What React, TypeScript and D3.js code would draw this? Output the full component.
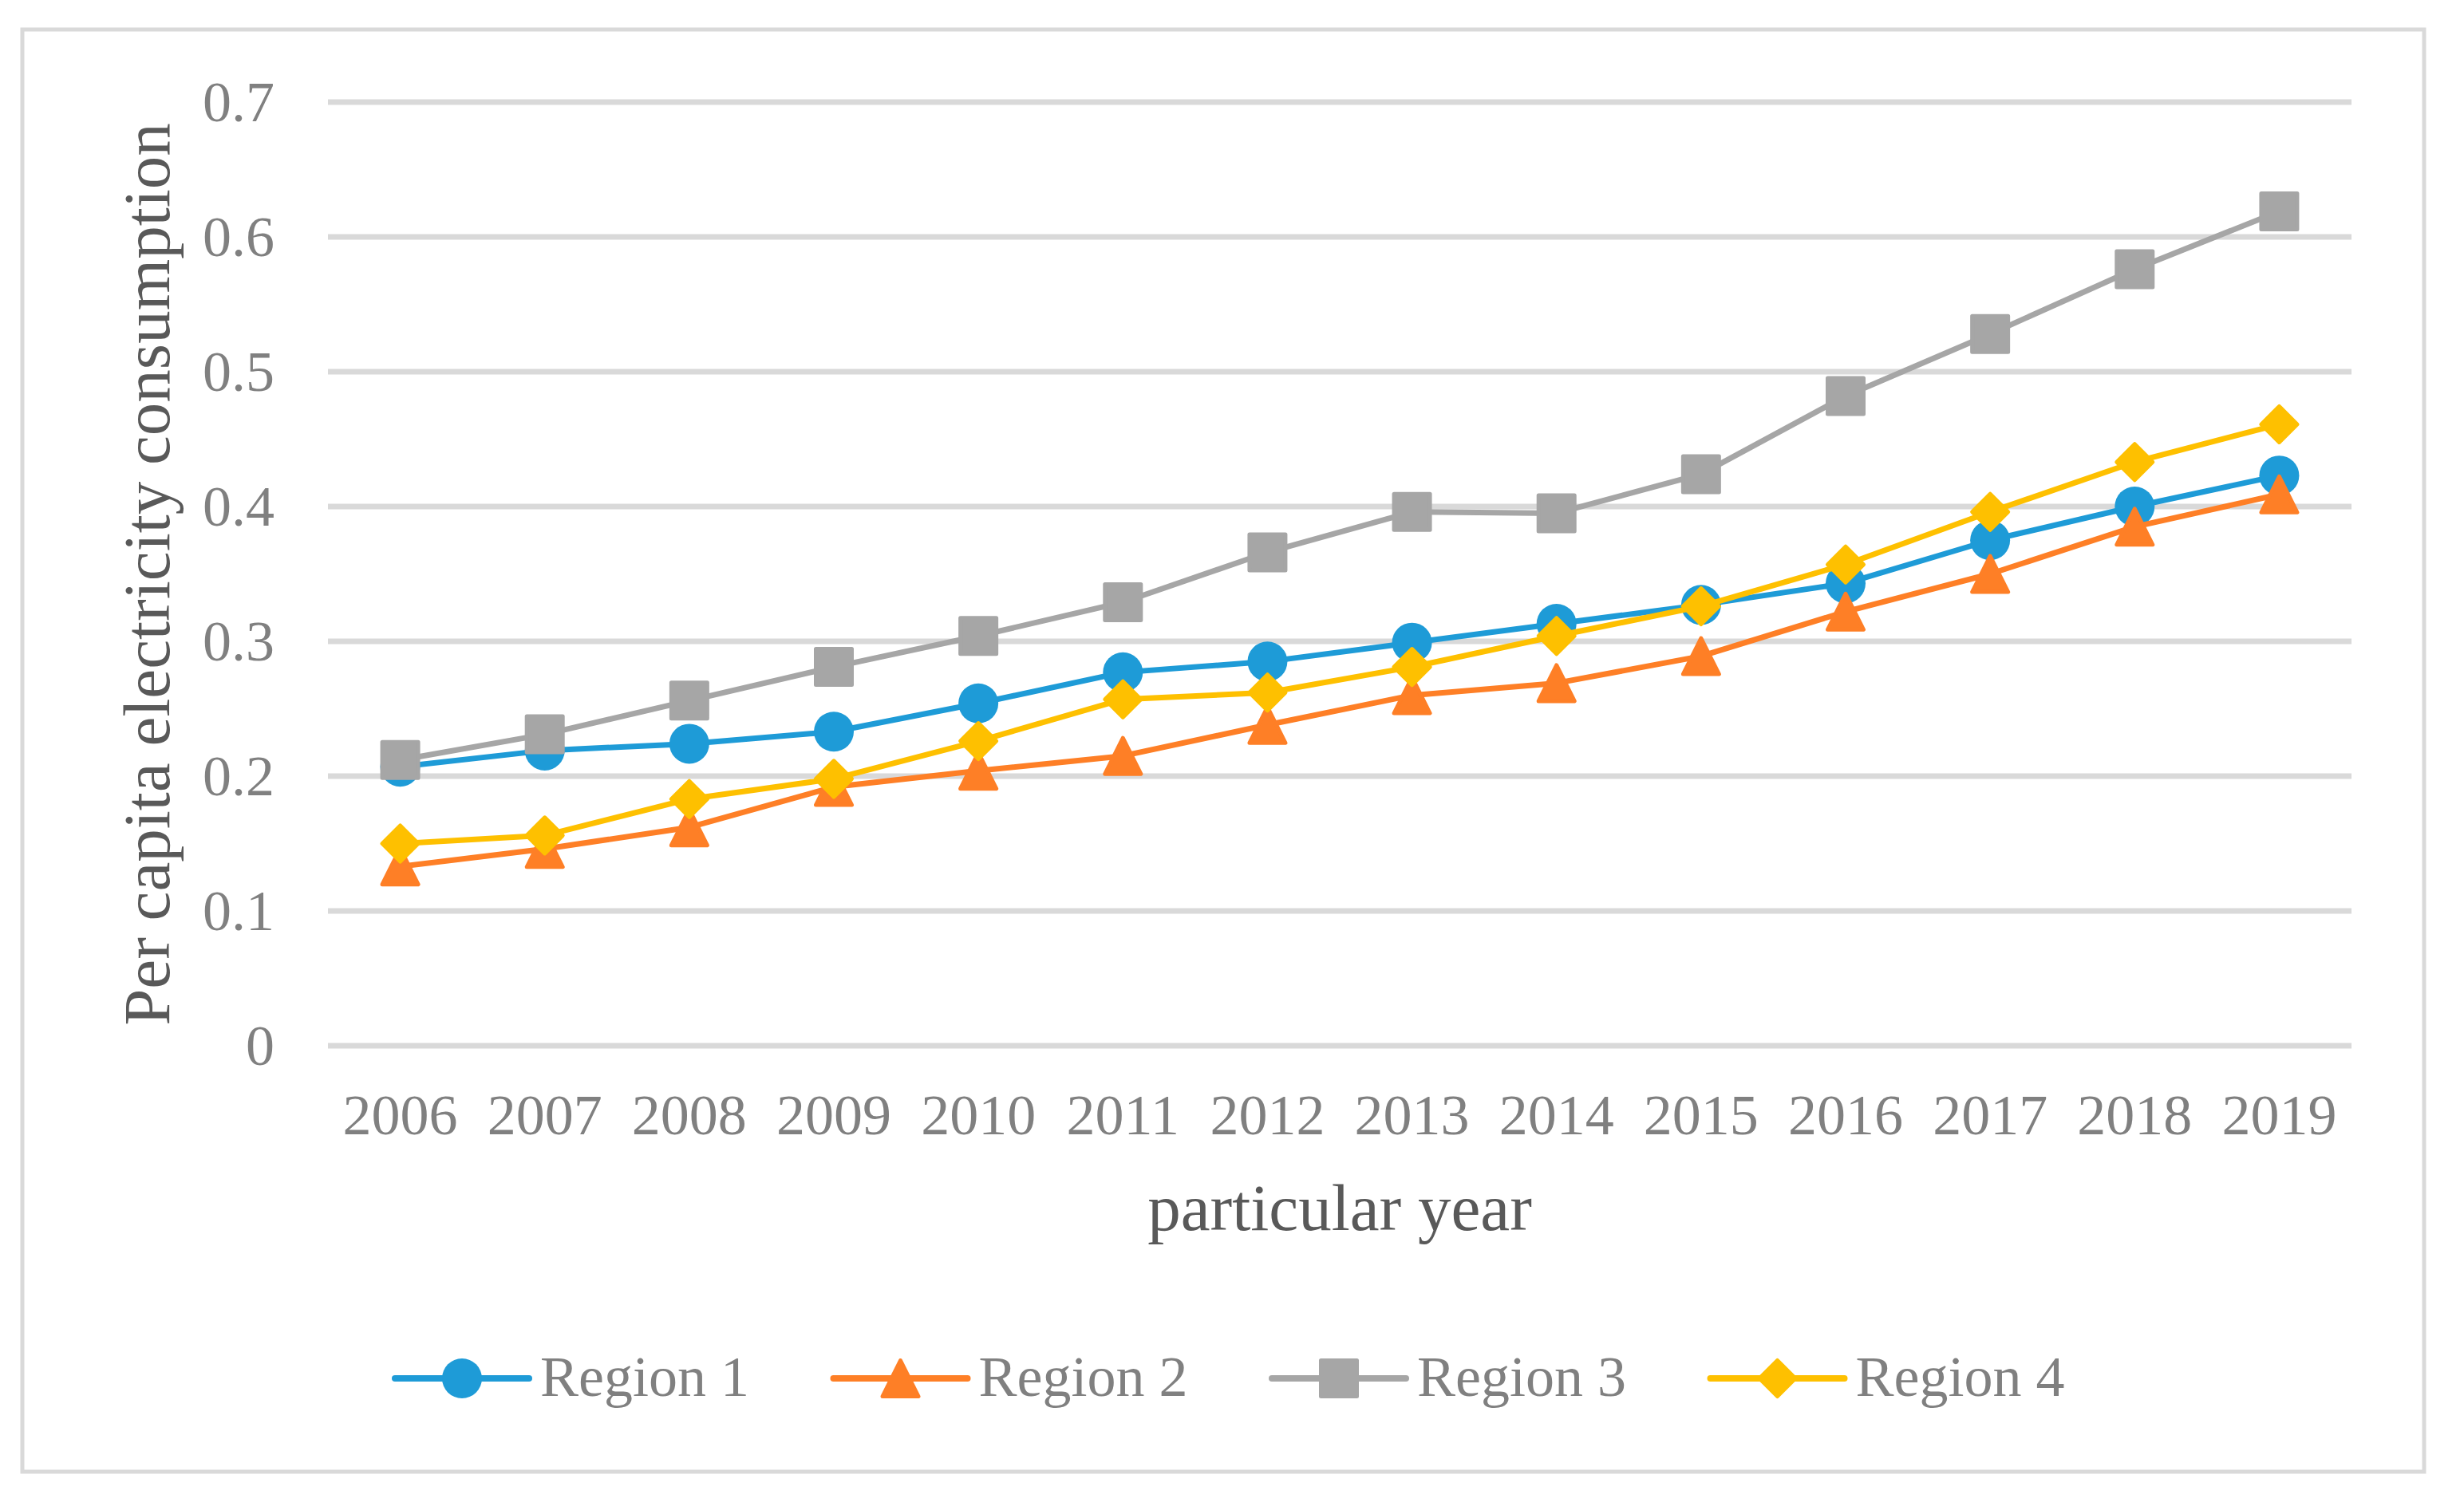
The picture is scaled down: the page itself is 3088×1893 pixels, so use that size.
import * as d3 from "d3";

// chart data
const years = ["2006", "2007", "2008", "2009", "2010", "2011", "2012", "2013", "2014", "2015", "2016", "2017", "2018", "2019"];
const region1 = [0.207, 0.219, 0.224, 0.233, 0.254, 0.277, 0.285, 0.299, 0.313, 0.327, 0.343, 0.375, 0.4, 0.423];
const region2 = [0.133, 0.146, 0.162, 0.192, 0.204, 0.215, 0.238, 0.26, 0.269, 0.289, 0.322, 0.35, 0.385, 0.409];
const region3 = [0.212, 0.231, 0.256, 0.281, 0.304, 0.329, 0.366, 0.396, 0.395, 0.424, 0.482, 0.528, 0.576, 0.619];
const region4 = [0.15, 0.156, 0.183, 0.198, 0.226, 0.257, 0.262, 0.281, 0.304, 0.326, 0.357, 0.396, 0.433, 0.461];
const seriesNames = ["Region 1", "Region 2", "Region 3", "Region 4"];
const yTicks = [0, 0.1, 0.2, 0.3, 0.4, 0.5, 0.6, 0.7];

const W = 3088;
const H = 1893;
const plot = { left: 411, right: 2947, top: 128, bottom: 1311 };
const colors = ["#1e9bd7", "#fe7f26", "#a6a6a6", "#fec000"];
const shapes = ["circle", "triangle", "square", "diamond"];
const font = "'Liberation Serif', 'Times New Roman', serif";
const MARK = 50;

// marker path centred on 0,0, s = box size
function markerPath(shape: string, s: number): string {
  const h = s / 2;
  if (shape === "circle") return d3.symbol(d3.symbolCircle, Math.PI * h * h)() as string;
  if (shape === "square") return `M${-h},${-h}H${h}V${h}H${-h}Z`;
  if (shape === "triangle") return `M0,${-h}L${h},${h}H${-h}Z`;
  return `M0,${-h}L${h},0L0,${h}L${-h},0Z`;
}

function Marker({ shape, color, x, y }: { shape: string; color: string; x: number; y: number }) {
  const sw = shape === "circle" ? 0 : 5;
  return (
    <path
      d={markerPath(shape, MARK - sw)}
      transform={`translate(${x},${y})`}
      fill={color}
      stroke={color}
      strokeWidth={sw}
      strokeLinejoin="round"
    />
  );
}

export default function App() {
  const data = [region1, region2, region3, region4];

  const x = d3.scaleBand<string>().domain(years).range([plot.left, plot.right]).padding(0);
  const y = d3.scaleLinear().domain([0, 0.7]).range([plot.bottom, plot.top]);
  const cx = (yr: string) => (x(yr) as number) + x.bandwidth() / 2;

  const line = d3
    .line<number>()
    .x((_, i) => cx(years[i]))
    .y((d) => y(d));

  // legend layout
  const legendStart = 495;
  const legendStep = 549.5;
  const legendLine = 168;
  const legendY = 1728;

  return (
    <svg
      width={W}
      height={H}
      viewBox={`0 0 ${W} ${H}`}
      style={{ position: "absolute", left: 0, top: 0, display: "block", background: "#fff" }}
    >
      <rect x={0} y={0} width={W} height={H} fill="#fff" />
      <rect x={28} y={37} width={3010} height={1808} fill="#fff" stroke="#d9d9d9" strokeWidth={5} />

      {/* gridlines */}
      {yTicks.map((t) => (
        <line key={t} x1={plot.left} x2={plot.right} y1={y(t)} y2={y(t)} stroke="#d9d9d9" strokeWidth={7} />
      ))}

      {/* y tick labels */}
      {yTicks.map((t) => (
        <text
          key={"l" + t}
          x={344}
          y={y(t) + 24}
          textAnchor="end"
          fontFamily={font}
          fontSize={72}
          fill="#808080"
        >
          {t === 0 ? "0" : t.toFixed(1)}
        </text>
      ))}

      {/* x tick labels */}
      {years.map((yr) => (
        <text key={yr} x={cx(yr)} y={1422} textAnchor="middle" fontFamily={font} fontSize={72} fill="#808080">
          {yr}
        </text>
      ))}

      {/* axis titles */}
      <text
        x={(plot.left + plot.right) / 2}
        y={1542}
        textAnchor="middle"
        fontFamily={font}
        fontSize={83}
        fill="#595959"
      >
        particular year
      </text>
      <text
        transform={`translate(212,720) rotate(-90)`}
        textAnchor="middle"
        fontFamily={font}
        fontSize={83}
        fill="#595959"
      >
        Per capita electricity consumption
      </text>

      {/* series */}
      {data.map((vals, si) => (
        <g key={si}>
          <path d={line(vals) as string} fill="none" stroke={colors[si]} strokeWidth={7} strokeLinejoin="round" strokeLinecap="round" />
          {vals.map((v, i) => (
            <Marker key={i} shape={shapes[si]} color={colors[si]} x={cx(years[i])} y={y(v)} />
          ))}
        </g>
      ))}

      {/* legend */}
      {seriesNames.map((name, si) => {
        const lx = legendStart + si * legendStep;
        return (
          <g key={name}>
            <line
              x1={lx}
              x2={lx + legendLine}
              y1={legendY}
              y2={legendY}
              stroke={colors[si]}
              strokeWidth={8}
              strokeLinecap="round"
            />
            <Marker shape={shapes[si]} color={colors[si]} x={lx + legendLine / 2} y={legendY} />
            <text x={lx + legendLine + 14} y={1750} fontFamily={font} fontSize={72} fill="#808080">
              {name}
            </text>
          </g>
        );
      })}
    </svg>
  );
}
